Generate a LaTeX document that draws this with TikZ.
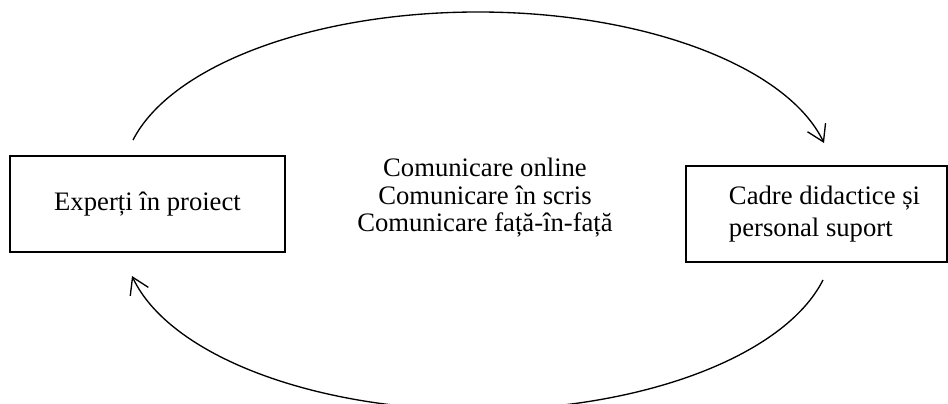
\documentclass[tikz,border=0pt]{standalone}
\usepackage{fontspec}
\setmainfont{Liberation Serif}
\usetikzlibrary{arrows.meta}

\begin{document}
\begin{tikzpicture}[x=0.75pt,y=-0.75pt,
    box/.style={draw,line width=1.1pt,minimum height=72pt,font=\fontsize{20pt}{24pt}\selectfont},
    feedback/.style={line width=1pt,-{Straight Barb[length=12pt,width=15pt]}}]
                \useasboundingbox (0,0) rectangle (948,403);

                \node[box,minimum width=206pt] (experti) at (147.5,204) {Experți în proiect};
                \node[box,minimum width=196pt] (cadre) at (816.5,214) {};
                \node[align=left,font=\fontsize{20pt}{24pt}\selectfont,xshift=6pt] (cadretext) at (cadre) {Cadre didactice și\\personal suport};
                \node[align=center,font=\fontsize{20pt}{20.6pt}\selectfont] (comunicare) at (485,198) {Comunicare online\\Comunicare în scris\\Comunicare față-în-față};

                \coordinate (t1) at (133,140);
                \coordinate (tm) at (478,12);
                \coordinate (t2) at (824,143);
                \coordinate (b1) at (823,280);
                \coordinate (bm) at (478,410);
                \coordinate (b2) at (132,276);

                \draw[feedback] (t1) .. controls (171.5,65) and (314,12) .. (tm) .. controls (643.5,12) and (787,66) .. (t2);
                \draw[feedback] (b1) .. controls (784.5,356) and (642,410) .. (bm) .. controls (312.5,410) and (169,355) .. (b2);
\end{tikzpicture}
\end{document}
